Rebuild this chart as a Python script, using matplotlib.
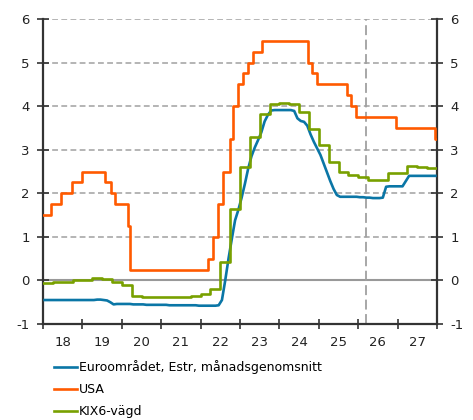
import matplotlib
matplotlib.use("Agg")
import matplotlib.pyplot as plt
import numpy as np

# Euro area Estr, monthly average, Jan 2018 - Dec 2027
euro = [
    -0.45, -0.45, -0.45, -0.45, -0.45, -0.45, -0.45, -0.45, -0.45, -0.45, -0.45, -0.45,
    -0.45, -0.45, -0.45, -0.45, -0.44, -0.44, -0.45, -0.46, -0.50, -0.55, -0.54, -0.54,
    -0.54, -0.54, -0.54, -0.55, -0.55, -0.55, -0.55, -0.56, -0.56, -0.56, -0.56, -0.56,
    -0.56, -0.56, -0.57, -0.57, -0.57, -0.57, -0.57, -0.57, -0.57, -0.57, -0.57, -0.58,
    -0.58, -0.58, -0.58, -0.58, -0.58, -0.57, -0.45, 0.00, 0.50, 0.95, 1.38, 1.62,
    1.90, 2.22, 2.57, 2.85, 3.05, 3.22, 3.40, 3.65, 3.80, 3.90, 3.91, 3.91,
    3.91, 3.91, 3.91, 3.91, 3.89, 3.72, 3.66, 3.64, 3.55, 3.35, 3.18, 3.03,
    2.88, 2.68, 2.48, 2.28, 2.10, 1.96, 1.92, 1.92, 1.92, 1.92, 1.92, 1.92,
    1.91, 1.91, 1.90, 1.90, 1.89, 1.89, 1.89, 1.90, 2.15, 2.16, 2.16, 2.16,
    2.16, 2.16, 2.28, 2.40, 2.40, 2.40, 2.40, 2.40, 2.40, 2.40, 2.40, 2.40,
]
euro_t = 2018 + (np.arange(len(euro)) + 0.5) / 12

# USA policy rate, change dates (decimal year) and levels
usa_t = [2018.0, 2018.2, 2018.45, 2018.74, 2018.99, 2019.58, 2019.72, 2019.83,
         2020.16, 2020.2, 2022.19, 2022.32, 2022.45, 2022.56, 2022.74, 2022.83,
         2022.96, 2023.08, 2023.21, 2023.34, 2023.56, 2024.72, 2024.84, 2024.95,
         2025.72, 2025.81, 2025.94, 2026.96, 2027.95, 2028.0]
usa = [1.50, 1.75, 2.00, 2.25, 2.50, 2.25, 2.00, 1.75,
       1.25, 0.25, 0.50, 1.00, 1.75, 2.50, 3.25, 4.00,
       4.50, 4.75, 5.00, 5.25, 5.50, 5.00, 4.75, 4.50,
       4.25, 4.00, 3.75, 3.50, 3.25, 3.25]

# KIX6-weighted, quarterly, 2018Q1 - 2027Q4
kix = [
    -0.07, -0.04, -0.04, 0.02,
    0.02, 0.06, 0.03, -0.04,
    -0.11, -0.35, -0.37, -0.38,
    -0.38, -0.38, -0.37, -0.36,
    -0.32, -0.19, 0.42, 1.65,
    2.60, 3.30, 3.81, 4.05,
    4.08, 4.05, 3.87, 3.48,
    3.11, 2.72, 2.50, 2.42,
    2.38, 2.31, 2.31, 2.47,
    2.47, 2.62, 2.60, 2.58,
]
kix_t = 2018 + np.arange(len(kix) + 1) / 4
kix_v = kix + [kix[-1]]

years = list(range(2018, 2029))
year_labels = ["18", "19", "20", "21", "22", "23", "24", "25", "26", "27"]
forecast_start = 2026.2

labels = ["Euroområdet, Estr, månadsgenomsnitt", "USA", "KIX6-vägd"]
c_blue = "#0a76a6"
c_red = "#ff5a00"
c_green = "#78a000"

plt.rcParams["font.family"] = ["DejaVu Sans"]
plt.rcParams["axes.unicode_minus"] = False

fig = plt.figure(figsize=(4.73, 4.2), dpi=100)
ax = fig.add_axes([43 / 473, 1 - 324 / 420, 394 / 473, 305 / 420])

grid_col = "#a0a0a0"
for y in [1, 2, 3, 4, 5, 6]:
    ax.axhline(y, color=grid_col, lw=1.1, dashes=(3.8, 2.2), zorder=1)
ax.axhline(0, color="#999999", lw=1.5, zorder=1)
ax.axvline(forecast_start, color="#a0a0a0", lw=1.3, dashes=(5.5, 2.5), zorder=1)

l1, = ax.plot(euro_t, euro, color=c_blue, lw=1.9, zorder=3)
l2, = ax.step(usa_t, usa, where="post", color=c_red, lw=1.9, zorder=4)
l3, = ax.step(kix_t, kix_v, where="post", color=c_green, lw=1.9, zorder=3)

ax.set_xlim(2018, 2028)
ax.set_ylim(-1, 6)

ax.set_xticks(years)
ax.set_xticklabels([])
ax.set_xticks([y + 0.5 for y in years[:-1]], minor=True)
ax.set_xticklabels(year_labels, minor=True)
ax.tick_params(axis="x", which="major", direction="inout", length=7, width=1.2, color="#333333")
ax.tick_params(axis="x", which="minor", length=0, pad=9, labelsize=9.5, labelcolor="#222222")

ax.set_yticks(range(-1, 7))
ax.tick_params(axis="y", which="major", direction="inout", length=9, width=1.2,
               color="#333333", labelsize=9.5, labelcolor="#222222", pad=5,
               right=True, labelright=True)

for side in ["left", "right", "bottom"]:
    ax.spines[side].set_color("#333333")
    ax.spines[side].set_linewidth(1.6)
ax.spines["top"].set_visible(False)

fig.legend([l1, l2, l3], labels, loc="upper left",
           bbox_to_anchor=(54 / 473, 1 - 360 / 420), frameon=False,
           fontsize=9, handlelength=1.85, handletextpad=0.15,
           labelspacing=0.72, borderpad=0, borderaxespad=0)

fig.savefig("out.png", dpi=100)
